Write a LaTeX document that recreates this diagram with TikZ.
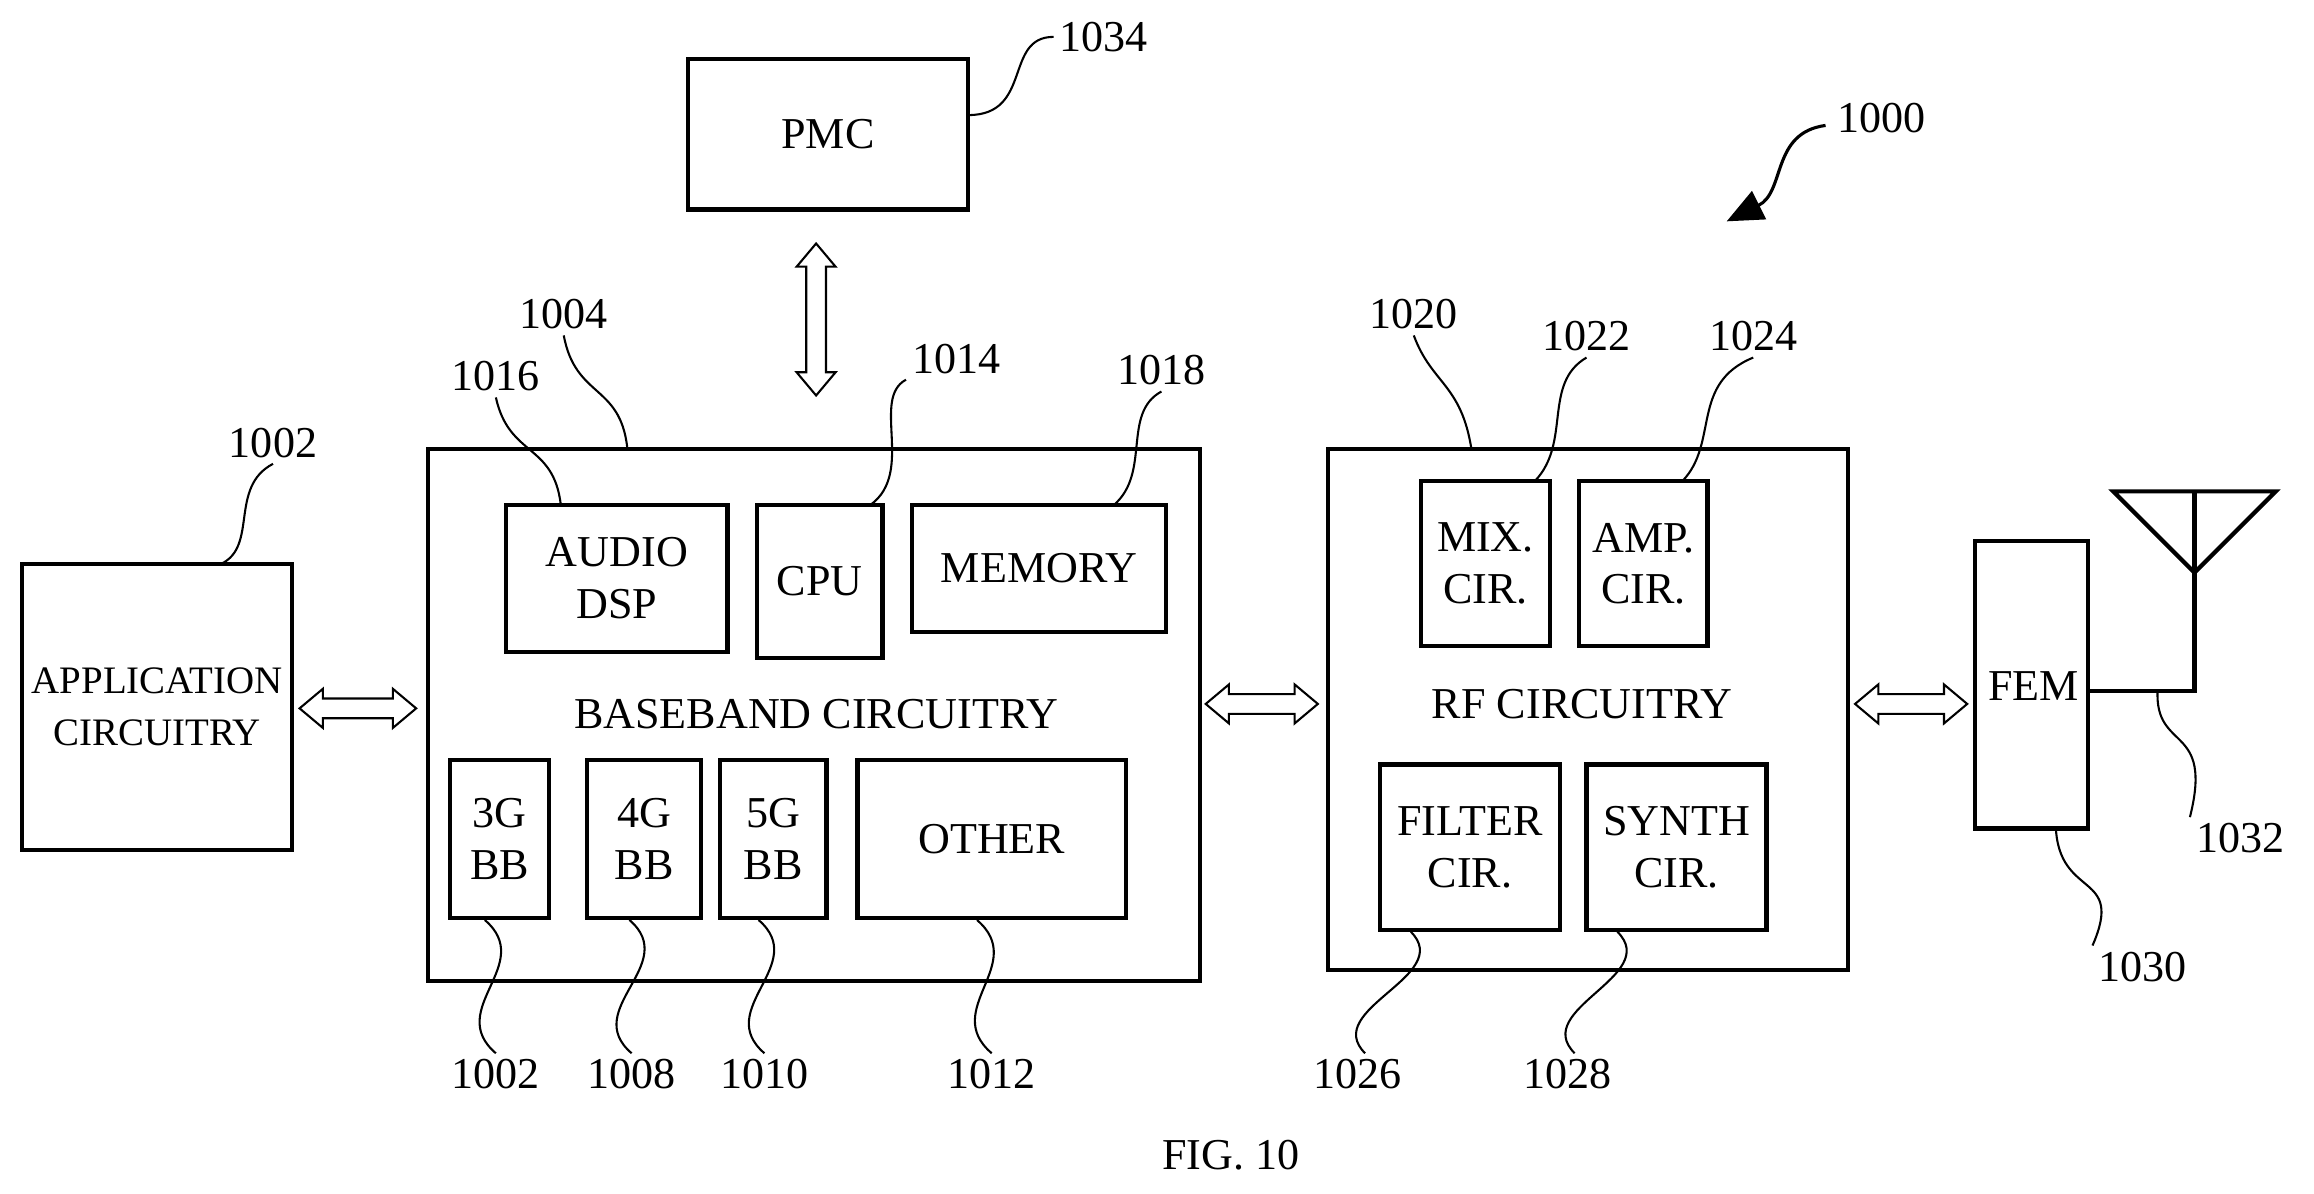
\documentclass[tikz,border=0pt]{standalone}
\usepackage{fontspec}
\setmainfont{Liberation Serif}
\usetikzlibrary{positioning,arrows.meta,shapes.arrows}

\begin{document}
\begin{tikzpicture}[font=\fontsize{8.5}{10}\selectfont,
    block/.style={draw, thick, rectangle, align=center, inner sep=0pt},
    lead/.style={thin},
    num/.style={inner sep=1pt},
    dbl/.style={draw, thin, double arrow, inner sep=0pt, minimum height=#1, minimum width=0.26cm,
      double arrow head extend=0.065cm, double arrow head indent=0pt, double arrow tip angle=80,
      text width=0.12cm, text height=0.12cm}
    ]
    \useasboundingbox (0,0) rectangle (15.68,-8.09);

    % blocks
    \node[block, minimum width=1.90cm, minimum height=1.02cm] (pmc) at (5.61,-0.91) {PMC};
    \node[block, minimum width=5.23cm, minimum height=3.61cm] (bb) at (5.515,-4.845) {};
    \node at (5.53,-4.84) (bbtext) {BASEBAND CIRCUITRY};
    \node[block, minimum width=1.50cm, minimum height=1.00cm] (dsp) at (4.18,-3.92) {AUDIO\\DSP};
    \node[block, minimum width=0.85cm, minimum height=1.04cm] (cpu) at (5.555,-3.94) {CPU};
    \node[block, minimum width=1.72cm, minimum height=0.86cm] (mem) at (7.04,-3.85) {MEMORY};
    \node[block, minimum width=0.67cm, minimum height=1.07cm] (g3) at (3.385,-5.685) {3G\\BB};
    \node[block, minimum width=0.77cm, minimum height=1.07cm] (g4) at (4.365,-5.685) {4G\\BB};
    \node[block, minimum width=0.72cm, minimum height=1.07cm] (g5) at (5.24,-5.685) {5G\\BB};
    \node[block, minimum width=1.82cm, minimum height=1.07cm] (oth) at (6.72,-5.685) {OTHER};
    \node[block, minimum width=1.83cm, minimum height=1.94cm, font=\fontsize{7.5}{10}\selectfont] (app) at (1.065,-4.79) {APPLICATION\\CIRCUITRY};
    \node[block, minimum width=3.52cm, minimum height=3.53cm] (rf) at (10.76,-4.805) {};
    \node at (10.72,-4.77) (rftext) {RF CIRCUITRY};
    \node[block, minimum width=0.87cm, minimum height=1.12cm] (mix) at (10.065,-3.82) {MIX.\\CIR.};
    \node[block, minimum width=0.87cm, minimum height=1.12cm] (amp) at (11.135,-3.82) {AMP.\\CIR.};
    \node[block, minimum width=1.22cm, minimum height=1.12cm] (filt) at (9.96,-5.74) {FILTER\\CIR.};
    \node[block, minimum width=1.22cm, minimum height=1.12cm] (syn) at (11.36,-5.74) {SYNTH\\CIR.};
    \node[block, minimum width=0.77cm, minimum height=1.95cm, anchor=north] (fem) at (13.765,-3.65) {};
    \node at (13.78,-4.65) {FEM};

    % antenna
    \coordinate (ant) at (14.87,-4.68);
    \coordinate (atop) at (14.87,-3.33);
    \coordinate (tipv) at (14.87,-3.88);
    \draw[thick] (fem.east |- ant) -- (ant) -- (atop);
    \draw[thick] (14.32,-3.33) -- (15.42,-3.33) -- (tipv) -- cycle;

    % interfaces
    \node[dbl=1.03cm, rotate=90] (a1) at (5.53,-2.165) {};
    \node[dbl=0.79cm] (a2) at (2.425,-4.80) {};
    \node[dbl=0.76cm] (a3) at (8.55,-4.77) {};
    \node[dbl=0.76cm] (a4) at (12.95,-4.77) {};

    % reference numerals
    \node[num] (n1034) at (7.48,-0.25) {1034};
    \node[num] (n1000) at (12.75,-0.80) {1000};
    \node[num] (n1004) at (3.82,-2.13) {1004};
    \node[num] (n1016) at (3.36,-2.55) {1016};
    \node[num] (n1014) at (6.48,-2.43) {1014};
    \node[num] (n1018) at (7.87,-2.51) {1018};
    \node[num] (n1002a) at (1.85,-3.00) {1002};
    \node[num] (n1020) at (9.58,-2.13) {1020};
    \node[num] (n1022) at (10.75,-2.28) {1022};
    \node[num] (n1024) at (11.88,-2.28) {1024};
    \node[num] (n1002) at (3.36,-7.28) {1002};
    \node[num] (n1008) at (4.28,-7.28) {1008};
    \node[num] (n1010) at (5.18,-7.28) {1010};
    \node[num] (n1012) at (6.72,-7.28) {1012};
    \node[num] (n1026) at (9.20,-7.28) {1026};
    \node[num] (n1028) at (10.62,-7.28) {1028};
    \node[num] (n1030) at (14.52,-6.55) {1030};
    \node[num] (n1032) at (15.18,-5.68) {1032};
    \node (fig) at (8.34,-7.83) {FIG. 10};

    % leaders
    \draw[lead] (6.56,-0.78) .. controls (7.0,-0.78) and (6.8,-0.25) .. (n1034.west);
    \draw[lead] (4.25,-3.03) .. controls (4.2,-2.6) and (3.9,-2.7) .. (n1004.south);
    \draw[lead] (3.80,-3.42) .. controls (3.75,-3.0) and (3.45,-3.1) .. (n1016.south);
    \draw[lead] (5.90,-3.42) .. controls (6.2,-3.2) and (5.9,-2.7) .. (n1014.south west);
    \draw[lead] (7.55,-3.42) .. controls (7.8,-3.2) and (7.6,-2.8) .. (n1018.south);
    \draw[lead] (1.50,-3.82) .. controls (1.75,-3.7) and (1.55,-3.3) .. (n1002a.south);
    \draw[lead] (9.97,-3.04) .. controls (9.9,-2.6) and (9.7,-2.6) .. (n1020.south);
    \draw[lead] (10.40,-3.26) .. controls (10.65,-3.0) and (10.45,-2.6) .. (n1022.south);
    \draw[lead] (11.40,-3.26) .. controls (11.65,-3.0) and (11.45,-2.6) .. (n1024.south);
    \foreach \b/\n in {g3/n1002,g4/n1008,g5/n1010,oth/n1012} {
      \draw[lead] ([xshift=-0.1cm]\b.south) .. controls +(0.35,-0.3) and +(-0.35,0.3) .. (\n.north);
    };
    \foreach \b/\n in {filt/n1026,syn/n1028} {
      \draw[lead] ([xshift=-0.4cm]\b.south) .. controls +(0.3,-0.3) and +(-0.3,0.3) .. ([xshift=0.05cm]\n.north);
    };
    \draw[lead] (13.93,-5.60) .. controls (13.95,-6.1) and (14.4,-5.9) .. (n1030.north west);
    \draw[lead] (14.62,-4.68) .. controls (14.6,-5.1) and (15.0,-4.9) .. (n1032.north west);
    \draw[-{Triangle[length=7pt,width=6pt]}, line width=0.6pt] (12.37,-0.85) .. controls (12.0,-0.9) and (12.1,-1.3) .. (11.70,-1.50);
\end{tikzpicture}
\end{document}
